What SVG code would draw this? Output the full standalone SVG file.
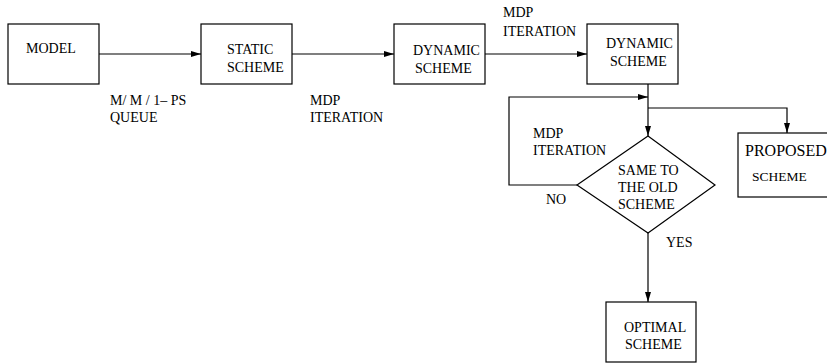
<svg xmlns="http://www.w3.org/2000/svg" width="827" height="364" viewBox="0 0 827 364">
<style>
.box{fill:#fff;stroke:#000;stroke-width:1.2}
.ln{fill:none;stroke:#000;stroke-width:1.2}
text{font-family:"Liberation Serif","Times New Roman",serif;font-size:14px;fill:#000}
</style>
<defs>
<marker id="ah" markerWidth="10" markerHeight="6" refX="10" refY="3" orient="auto" markerUnits="userSpaceOnUse">
<path d="M0,0 L10,3 L0,6 Z" fill="#000"/>
</marker>
</defs>
<rect width="827" height="364" fill="#fff"/>
<g id="connectors">
<path class="ln" d="M99,54 H201" marker-end="url(#ah)"/>
<path class="ln" d="M292,54 H394" marker-end="url(#ah)"/>
<path class="ln" d="M485,54 H587" marker-end="url(#ah)"/>
<path class="ln" d="M648,84 V136" marker-end="url(#ah)"/>
<path class="ln" d="M648,108 H787 V133" marker-end="url(#ah)"/>
<path class="ln" d="M577,185 H509 V97 H648" marker-end="url(#ah)"/>
<path class="ln" d="M648,233 V302" marker-end="url(#ah)"/>
<text x="110" y="105">M/ M / 1– PS</text>
<text x="110" y="122">QUEUE</text>
<text x="310" y="105">MDP</text>
<text x="310" y="122">ITERATION</text>
<text x="503" y="17">MDP</text>
<text x="503" y="36">ITERATION</text>
<text x="533" y="138">MDP</text>
<text x="533" y="155">ITERATION</text>
<text x="546" y="204">NO</text>
<text x="666" y="247">YES</text>
</g>
<g id="model">
<rect class="box" x="8" y="24" width="91" height="60"/>
<text x="26" y="53">MODEL</text>
</g>
<g id="static">
<rect class="box" x="201" y="24" width="91" height="60"/>
<text x="227" y="54">STATIC</text>
<text x="227" y="72">SCHEME</text>
</g>
<g id="dynamic1">
<rect class="box" x="394" y="24" width="91" height="60"/>
<text x="413" y="55">DYNAMIC</text>
<text x="415" y="73">SCHEME</text>
</g>
<g id="dynamic2">
<rect class="box" x="587" y="24" width="91" height="60"/>
<text x="606" y="48">DYNAMIC</text>
<text x="610" y="66">SCHEME</text>
</g>
<g id="decision">
<polygon class="box" points="648,136 715,185 648,233 577,185"/>
<text x="618" y="175">SAME TO</text>
<text x="618" y="192">THE OLD</text>
<text x="618" y="209">SCHEME</text>
</g>
<g id="proposed">
<rect class="box" x="738" y="133" width="100" height="64"/>
<text x="745" y="156" style="font-size:16px">PROPOSED</text>
<text x="752" y="181" style="font-size:13.5px">SCHEME</text>
</g>
<g id="optimal">
<rect class="box" x="606" y="302" width="90" height="60"/>
<text x="624" y="332">OPTIMAL</text>
<text x="625" y="349">SCHEME</text>
</g>
</svg>
